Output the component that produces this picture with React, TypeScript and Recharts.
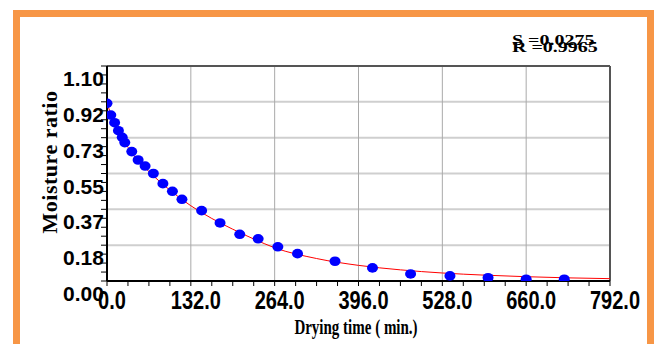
import React from "react";
import {
  ComposedChart,
  Scatter,
  Line,
  XAxis,
  YAxis,
  CartesianGrid,
  ReferenceLine,
} from "recharts";

// measured points: drying time (min) vs moisture ratio
const dryTime = [0, 6, 12, 18, 24, 28, 39, 49, 60, 73, 88, 103, 118, 149, 178, 209, 238, 269, 300, 359, 418, 478, 540, 600, 660, 720];
const moistureRatio = [0.909, 0.849, 0.81, 0.769, 0.735, 0.708, 0.662, 0.619, 0.588, 0.55, 0.498, 0.459, 0.418, 0.36, 0.297, 0.239, 0.216, 0.175, 0.14, 0.101, 0.067, 0.036, 0.026, 0.017, 0.009, 0.009];

// fitted curve
const fitTime = [0, 22, 44, 66, 99, 132, 165, 198, 231, 264, 330, 396, 462, 528, 594, 660, 726, 792];
const fitMR = [0.905, 0.745, 0.635, 0.56, 0.465, 0.385, 0.32, 0.265, 0.215, 0.17, 0.115, 0.08, 0.057, 0.041, 0.03, 0.022, 0.016, 0.012];

const xMajor = [0, 132, 264, 396, 528, 660, 792];
const xLabels = ["0.0", "132.0", "264.0", "396.0", "528.0", "660.0", "792.0"];
const xMinor = [0, 33, 66, 99, 132, 165, 198, 231, 264, 297, 330, 363, 396, 429, 462, 495, 528, 561, 594, 627, 660, 693, 726, 759, 792];

const yMajor = [0, 0.1833, 0.3667, 0.55, 0.7333, 0.9167, 1.1];
const yLabels = ["0.00", "0.18", "0.37", "0.55", "0.73", "0.92", "1.10"];
const yMinor = [0, 0.0458, 0.0917, 0.1375, 0.1833, 0.2292, 0.275, 0.3208, 0.3667, 0.4125, 0.4583, 0.5042, 0.55, 0.5958, 0.6417, 0.6875, 0.7333, 0.7792, 0.825, 0.8708, 0.9167, 0.9625, 1.0083, 1.0542, 1.1];

const statS = "S =0.0275";
const statR = "R =0.9965";

const points = dryTime.map((t, i) => ({ t, mr: moistureRatio[i] }));
const fitData = fitTime.map((t, i) => ({ t, mr: fitMR[i] }));

const SANS = "'Liberation Sans', Arial, sans-serif";
const SERIF = "'Liberation Serif', 'Times New Roman', serif";

const findLabel = (v: number, vals: number[], labels: string[]) => {
  const i = vals.findIndex((m) => Math.abs(m - v) < 1e-3);
  return i >= 0 ? labels[i] : null;
};

const XTick = ({ x, y, payload }: any) => {
  const label = findLabel(payload.value, xMajor, xLabels);
  if (!label) return null;
  return (
    <g transform={`translate(${x + 5},${y + 23}) scale(1,1.25)`}>
      <text x={0} y={0} textAnchor="middle" fontFamily={SANS} fontWeight="bold" fontSize={20} fill="#000">
        {label}
      </text>
    </g>
  );
};

const YTick = ({ x, y, payload }: any) => {
  const label = findLabel(payload.value, yMajor, yLabels);
  if (!label) return null;
  return (
    <text x={x - 38} y={y + 20} textAnchor="start" fontFamily={SANS} fontWeight="bold" fontSize={21} fill="#000">
      {label}
    </text>
  );
};

const Dot = (props: any) => {
  const { cx, cy } = props;
  if (cx == null || cy == null) return null;
  return <ellipse cx={cx} cy={cy} rx={5.5} ry={4.8} fill="#0000ff" />;
};

export default function App() {
  return (
    <div style={{ position: "absolute", left: 0, top: 0, width: 659, height: 344, background: "#fff", overflow: "hidden" }}>
      <div
        style={{
          position: "absolute",
          left: 13,
          top: 10,
          width: 641,
          height: 340,
          boxSizing: "border-box",
          borderTop: "7px solid #f79646",
          borderLeft: "7px solid #f79646",
          borderRight: "7px solid #f79646",
        }}
      />
      <div style={{ position: "absolute", left: 0, top: 0 }}>
        <ComposedChart width={659} height={344} margin={{ top: 66, right: 49, bottom: 33, left: 47 }}>
          <CartesianGrid vertical={false} horizontalValues={yMajor} stroke="#cfcfcf" strokeWidth={2} />
          <CartesianGrid horizontal={false} verticalValues={xMajor} stroke="#a9a9a9" strokeWidth={1} />
          <XAxis
            type="number"
            dataKey="t"
            domain={[0, 792]}
            ticks={xMinor}
            interval={0}
            allowDataOverflow
            tickSize={5}
            tickMargin={0}
            tickLine={{ stroke: "#000", strokeWidth: 1 }}
            axisLine={{ stroke: "#000", strokeWidth: 2 }}
            tick={<XTick />}
            height={30}
          />
          <YAxis
            type="number"
            dataKey="mr"
            domain={[0, 1.1]}
            ticks={yMinor}
            interval={0}
            allowDataOverflow
            tickSize={6}
            tickMargin={0}
            tickLine={{ stroke: "#000", strokeWidth: 1 }}
            axisLine={{ stroke: "#000", strokeWidth: 2 }}
            tick={<YTick />}
            width={60}
          />
          <ReferenceLine y={1.1} stroke="#555" strokeWidth={2} />
          <ReferenceLine x={792} stroke="#555" strokeWidth={2} />
          <Line
            data={fitData}
            dataKey="mr"
            type="monotone"
            stroke="#ff0000"
            strokeWidth={1}
            dot={false}
            isAnimationActive={false}
          />
          <Scatter data={points} dataKey="mr" shape={<Dot />} isAnimationActive={false} />
        </ComposedChart>
      </div>
      <svg width={659} height={344} style={{ position: "absolute", left: 0, top: 0, pointerEvents: "none" }}>
        <text
          transform="translate(57,162) rotate(-90)"
          textAnchor="middle"
          fontFamily={SERIF}
          fontWeight="bold"
          fontSize={22}
          letterSpacing={0.5}
          fill="#000"
        >
          Moisture ratio
        </text>
        <g transform="translate(356,334) scale(1,1.4)">
          <text x={0} y={0} textAnchor="middle" fontFamily={SERIF} fontWeight="bold" fontSize={15} fill="#000">
            Drying time ( min.)
          </text>
        </g>
        <g transform="translate(512,45) scale(1,0.76)">
          <text x={0} y={0} fontFamily={SERIF} fontWeight="bold" fontSize={20} fill="#000">
            {statS}
          </text>
        </g>
        <g transform="translate(512,52) scale(1,0.76)">
          <text x={0} y={0} fontFamily={SERIF} fontWeight="bold" fontSize={20} fill="#000">
            {statR}
          </text>
        </g>
      </svg>
    </div>
  );
}
